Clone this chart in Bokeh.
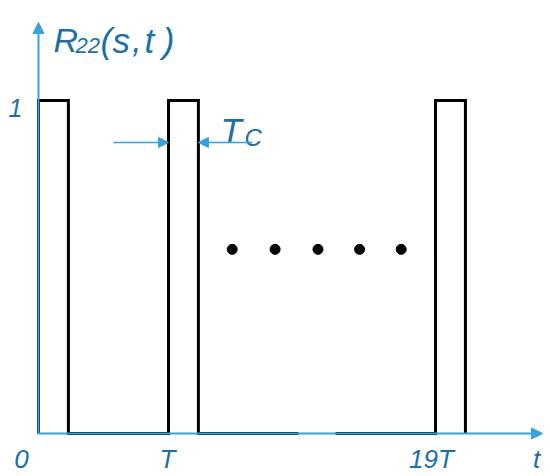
from bokeh.plotting import figure
from bokeh.models import Range1d, Arrow, NormalHead
from bokeh.core.properties import value
from bokeh.embed import file_html
from bokeh.resources import INLINE

# ---- data (x in units of the displayed period T, y normalised) ----
pulse_starts = [0.0, 1.0, 3.054]      # 0, T, 19T (axis drawn with a break)
pulse_width = 0.23                    # T_C
pulse_level = 1.0
break_start = 2.0                     # gap in the black baseline
break_end = 2.285
dots_x = [1.49, 1.82, 2.15, 2.47, 2.79]
dots_y = [0.553, 0.553, 0.553, 0.553, 0.553]
tick_labels = ["0", "T", "19T", "t"]
tick_label_x = [-0.131, 0.992, 3.023, 3.831]
level_labels = ["1"]
level_label_y = [0.976]
title_chars = ["(", "s", ",", "t", ")"]
title_char_x = [0.477, 0.569, 0.720, 0.815, 0.955]

AXIS_BLUE = "#34a3dc"
TEXT_BLUE = "#1b6fa5"
FONT = "Liberation Sans"

# build the black pulse train
xs, ys = [], []
for i, s in enumerate(pulse_starts):
    if i > 0:
        prev_end = pulse_starts[i - 1] + pulse_width
        if prev_end < break_start < s:
            xs += [break_start, float("nan"), break_end]
            ys += [0.0, float("nan"), 0.0]
    xs += [s, s, s + pulse_width, s + pulse_width]
    ys += [0.0, pulse_level, pulse_level, 0.0]

p = figure(width=550, height=476, output_backend="svg", toolbar_location=None,
           x_axis_type=None, y_axis_type=None,
           x_range=Range1d(-0.2923, 3.9385), y_range=Range1d(-0.1291, 1.3003))
p.min_border = 0
p.min_border_left = 0
p.min_border_right = 0
p.min_border_top = 0
p.min_border_bottom = 0
p.outline_line_color = None
p.grid.visible = False
p.background_fill_color = "white"
p.border_fill_color = "white"

# axes (blue arrows)
p.add_layout(Arrow(x_start=0, y_start=0, x_end=3.877, y_end=0,
                   line_color=AXIS_BLUE, line_width=2,
                   end=NormalHead(size=11, fill_color=AXIS_BLUE, line_color=AXIS_BLUE)))
p.add_layout(Arrow(x_start=0, y_start=0, x_end=0, y_end=1.234,
                   line_color=AXIS_BLUE, line_width=2,
                   end=NormalHead(size=11, fill_color=AXIS_BLUE, line_color=AXIS_BLUE)))

# pulse train
p.line(xs, ys, line_color="black", line_width=3, line_join="miter")

# T_C arrows
p.add_layout(Arrow(x_start=0.577, y_start=0.874, x_end=pulse_starts[1], y_end=0.874,
                   line_color=AXIS_BLUE, line_width=1.5,
                   end=NormalHead(size=10, fill_color=AXIS_BLUE, line_color=AXIS_BLUE)))
p.add_layout(Arrow(x_start=1.646, y_start=0.874, x_end=pulse_starts[1] + pulse_width, y_end=0.874,
                   line_color=AXIS_BLUE, line_width=1.5,
                   end=NormalHead(size=10, fill_color=AXIS_BLUE, line_color=AXIS_BLUE)))

# ellipsis dots
p.scatter(dots_x, dots_y, size=10, color="black")

# tick labels
p.text(x=tick_label_x, y=[-0.078] * len(tick_labels), text=tick_labels,
       text_font=value(FONT), text_font_style="italic", text_font_size="26px",
       text_color=TEXT_BLUE, text_align="center", text_baseline="alphabetic")
p.text(x=[-0.177], y=level_label_y, text=level_labels,
       text_font=value(FONT), text_font_style="italic", text_font_size="25px",
       text_color=TEXT_BLUE, text_align="center", text_baseline="alphabetic")

# y-axis title R_22(s,t)
p.text(x=[0.1154], y=[1.1802], text=["R"], text_font=value(FONT), text_font_style="italic",
       text_font_size="34px", text_color=TEXT_BLUE, text_baseline="alphabetic")
p.text(x=[0.2846], y=[1.1652], text=["22"], text_font=value(FONT), text_font_style="italic",
       text_font_size="22px", text_color=TEXT_BLUE, text_baseline="alphabetic")
p.text(x=title_char_x, y=[1.1802] * len(title_chars), text=title_chars,
       text_font=value(FONT), text_font_style="italic",
       text_font_size="35px", text_color=TEXT_BLUE, text_baseline="alphabetic")

# T_C label
p.text(x=[1.40], y=[0.9099], text=["T"], text_font=value(FONT), text_font_style="italic",
       text_font_size="35px", text_color=TEXT_BLUE, text_baseline="alphabetic")
p.text(x=[1.585], y=[0.8889], text=["C"], text_font=value(FONT), text_font_style="italic",
       text_font_size="24px", text_color=TEXT_BLUE, text_baseline="alphabetic")

open("out.html", "w").write(file_html(p, INLINE))
